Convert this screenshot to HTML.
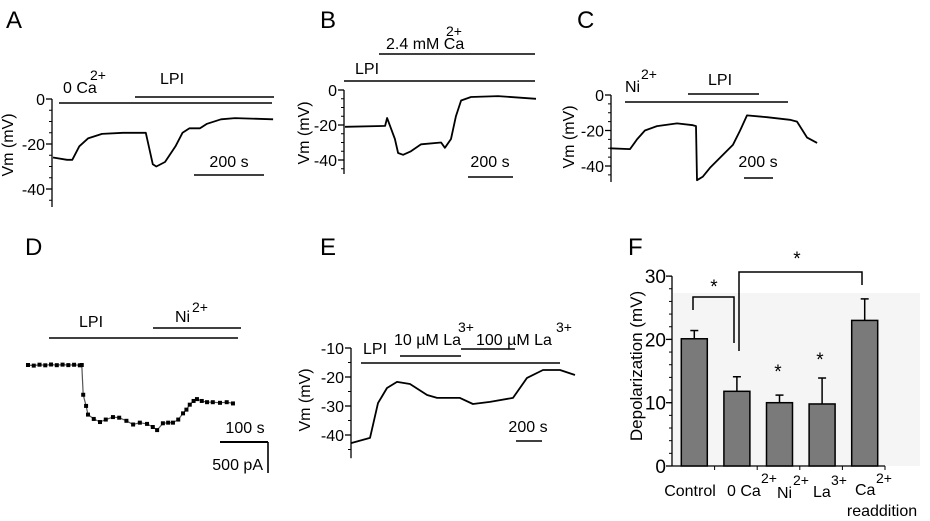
<!DOCTYPE html>
<html><head><meta charset="utf-8"><style>
html,body{margin:0;padding:0;background:#fff;}
svg{display:block;font-family:"Liberation Sans",Arial,sans-serif;}
text{fill:#000;}
</style></head><body>
<svg id="fig" width="930" height="521" viewBox="0 0 930 521" xmlns="http://www.w3.org/2000/svg">
<g id="static" stroke-linecap="butt">
<text x="6" y="28" font-size="24">A</text>
<text x="320" y="28" font-size="24">B</text>
<text x="577" y="28" font-size="24">C</text>
<text x="25" y="255" font-size="24">D</text>
<text x="320" y="255" font-size="24">E</text>
<text x="628" y="255" font-size="24">F</text>

<g>
<line x1="59" y1="103" x2="272" y2="103" stroke="#000" stroke-width="1.6"/>
<line x1="135" y1="97" x2="274" y2="97" stroke="#000" stroke-width="1.6"/>
<text x="63" y="93" font-size="16">0 Ca</text><text x="90" y="80" font-size="14">2+</text>
<text x="160" y="84" font-size="16">LPI</text>
<line x1="194" y1="175" x2="264" y2="175" stroke="#000" stroke-width="1.6"/>
<text x="229" y="167" font-size="16" text-anchor="middle">200 s</text>
<text transform="translate(13,145) rotate(-90)" font-size="16" text-anchor="middle">Vm (mV)</text>
</g>
<g>
<line x1="344" y1="81" x2="535" y2="81" stroke="#000" stroke-width="1.6"/>
<line x1="379" y1="54" x2="535" y2="54" stroke="#000" stroke-width="1.6"/>
<text x="355" y="74" font-size="16">LPI</text>
<text x="386" y="49" font-size="16">2.4 mM Ca</text><text x="446" y="36" font-size="14">2+</text>
<line x1="468" y1="177" x2="513" y2="177" stroke="#000" stroke-width="1.6"/>
<text x="490" y="167" font-size="16" text-anchor="middle">200 s</text>
<text transform="translate(309,133) rotate(-90)" font-size="16" text-anchor="middle">Vm (mV)</text>
</g>
<g>
<line x1="625" y1="102" x2="788" y2="102" stroke="#000" stroke-width="1.6"/>
<line x1="688" y1="94" x2="759" y2="94" stroke="#000" stroke-width="1.6"/>
<text x="625" y="92" font-size="16">Ni</text><text x="641" y="79" font-size="14">2+</text>
<text x="708" y="85" font-size="16">LPI</text>
<line x1="744" y1="178" x2="773" y2="178" stroke="#000" stroke-width="1.6"/>
<text x="758" y="167" font-size="16" text-anchor="middle">200 s</text>
<text transform="translate(574,137) rotate(-90)" font-size="16" text-anchor="middle">Vm (mV)</text>
</g>
<g>
<line x1="49" y1="338" x2="238" y2="338" stroke="#000" stroke-width="1.6"/>
<line x1="153" y1="328" x2="241" y2="328" stroke="#000" stroke-width="1.6"/>
<text x="79" y="327" font-size="16">LPI</text>
<text x="175" y="322" font-size="16">Ni</text><text x="192" y="312" font-size="14">2+</text>
<line x1="220" y1="442" x2="268" y2="442" stroke="#000" stroke-width="2"/>
<line x1="268" y1="442" x2="268" y2="473" stroke="#000" stroke-width="1.6"/>
<text x="245" y="433" font-size="16" text-anchor="middle">100 s</text>
<text x="263" y="470" font-size="16" text-anchor="end">500 pA</text>
</g>
<g>
<line x1="361" y1="363" x2="560" y2="363" stroke="#000" stroke-width="1.6"/>
<line x1="400" y1="356" x2="461" y2="356" stroke="#000" stroke-width="1.6"/>
<line x1="461" y1="349" x2="515" y2="349" stroke="#000" stroke-width="1.6"/>
<text x="363" y="354" font-size="16">LPI</text>
<text x="394" y="345" font-size="16">10 µM La</text><text x="458" y="332" font-size="14">3+</text>
<text x="476" y="345" font-size="16">100 µM La</text><text x="556" y="332" font-size="14">3+</text>
<line x1="516" y1="441" x2="542" y2="441" stroke="#000" stroke-width="1.6"/>
<text x="528" y="432" font-size="16" text-anchor="middle">200 s</text>
<text transform="translate(310,400) rotate(-90)" font-size="16" text-anchor="middle">Vm (mV)</text>
</g>
<rect x="673" y="293" width="247" height="173" fill="#f5f5f5"/>
<g>
<text transform="translate(642,366) rotate(-90)" font-size="17" text-anchor="middle">Depolarization (mV)</text>
<text x="690" y="496" font-size="16" text-anchor="middle">Control</text>
<text x="727" y="496" font-size="16">0 Ca</text><text x="761" y="483" font-size="14">2+</text>
<text x="777" y="498" font-size="16">Ni</text><text x="793" y="485" font-size="14">2+</text>
<text x="813" y="497" font-size="16">La</text><text x="831" y="485" font-size="14">3+</text>
<text x="855" y="495" font-size="16">Ca</text><text x="876" y="483" font-size="14">2+</text>
<text x="882" y="516" font-size="16" text-anchor="middle">readdition</text>
<path d="M693,310 V297 H734 V343" fill="none" stroke="#000" stroke-width="1.5"/>
<path d="M739,351 V272 H862 V285" fill="none" stroke="#000" stroke-width="1.5"/>
<text x="714" y="293" font-size="19" text-anchor="middle">*</text>
<text x="797" y="265" font-size="19" text-anchor="middle">*</text>
<text x="778" y="378" font-size="19" text-anchor="middle">*</text>
<text x="820" y="366" font-size="19" text-anchor="middle">*</text>
</g>
</g>
<g id="dyn"></g>
</svg>
<script>
const aTime = [0,40,55,75,100,140,200,265,285,295,320,350,370,390,420,440,480,520,629];
const aVm = [-26,-27,-27,-21,-17.5,-15.5,-15,-15,-29,-30,-28,-21,-15,-13,-13,-11,-9,-8.5,-9];
const aTicks = [0,-20,-40];
const bTime = [0,178,187,222,236,258,293,338,427,444,471,493,516,560,680,849];
const bVm = [-21,-20.5,-16,-28,-36,-37,-35,-31,-30,-33,-28,-15,-6,-4,-3.5,-5];
const bTicks = [0,-20,-40];
const cTime = [0,138,186,241,324,462,572,593,600,641,690,848,897,945,1083,1241,1290,1359,1428];
const cVm = [-30,-30.5,-25,-20,-17.5,-16,-17,-17.5,-48,-46,-41,-28,-20,-11.5,-12.5,-14,-15,-24,-27];
const cTicks = [0,-20,-40];
const dTime = [0,12,24,36,48,60,72,84,96,108,112,115,121,125,137,150,162,177,190,205,219,233,248,260,269,281,292,302,313,323,330,337,345,352,362,373,385,400,414,427];
const dCur = [0,-10,5,-5,8,-3,6,-2,4,-5,0,-480,-660,-800,-870,-920,-880,-840,-850,-900,-960,-930,-950,-1000,-1050,-940,-930,-930,-880,-780,-720,-640,-580,-550,-580,-600,-600,-610,-600,-620];
const eTime = [0,146,208,277,354,454,585,662,838,938,1069,1246,1354,1477,1608,1723];
const eVm = [-42.8,-41,-29,-23.8,-21.7,-22.4,-26.2,-27.2,-27.2,-29.3,-28.6,-27.2,-20.3,-17.6,-17.6,-19.3];
const eTicks = [-10,-20,-30,-40];
const fCats = ["Control","0 Ca2+","Ni2+","La3+","Ca2+ readdition"];
const fMeans = [20.1,11.8,10.0,9.8,23.0];
const fErrTop = [21.4,14.1,11.2,13.9,26.4];
const fTicks = [0,10,20,30];

const NS = "http://www.w3.org/2000/svg";
const dyn = document.getElementById('dyn');
function mk(tag, attrs){const e=document.createElementNS(NS,tag);for(const k in attrs)e.setAttribute(k,attrs[k]);dyn.appendChild(e);return e;}

function tracePanel(name, times, vals, x0, pxPerS, y0, v0, pxPerUnit, axis){
  const X=t=>x0+t*pxPerS, Y=v=>y0-(v-v0)*pxPerUnit;
  const pts=times.map((t,i)=>X(t).toFixed(1)+','+Y(vals[i]).toFixed(1)).join(' ');
  const pl=mk('polyline',{points:pts,fill:'none',stroke:'#000','stroke-width':1.8,'stroke-linejoin':'round'});
  
  
  if(axis){
    const ax=mk('line',{x1:axis.x,y1:Y(axis.top),x2:axis.x,y2:Y(axis.bottom),stroke:'#000','stroke-width':1.3});
    
    
    for(let v=axis.top; v>=axis.bottom; v-=axis.minor){
      mk('line',{x1:axis.x-3,y1:Y(v),x2:axis.x,y2:Y(v),stroke:'#000','stroke-width':1});
    }
    axis.ticks.forEach(v=>{
      mk('line',{x1:axis.x-6,y1:Y(v),x2:axis.x,y2:Y(v),stroke:'#000','stroke-width':1.3});
      const t=mk('text',{x:axis.x-7,y:Y(v)+6,'font-size':16,'text-anchor':'end'});
      t.textContent=String(v);
      
      
    });
  }
  return {X,Y};
}
tracePanel('panel-a', aTime, aVm, 53, 0.35, 99, 0, 2.25, {x:52, top:0, bottom:-48, minor:5, ticks:aTicks});
tracePanel('panel-b', bTime, bVm, 345, 0.225, 90, 0, 1.75, {x:344, top:0, bottom:-48, minor:5, ticks:bTicks});
tracePanel('panel-c', cTime, cVm, 610, 0.145, 95, 0, 1.775, {x:611, top:0, bottom:-49, minor:5, ticks:cTicks});
tracePanel('panel-e', eTime, eVm, 351, 0.13, 348, -10, 2.9, {x:351, top:-10, bottom:-48, minor:5, ticks:eTicks});
(function(){
  const X=t=>28+t*0.48, Y=v=>365-v*0.062;
  const pts=dTime.map((t,i)=>X(t).toFixed(1)+','+Y(dCur[i]).toFixed(1)).join(' ');
  const pl=mk('polyline',{points:pts,fill:'none',stroke:'#555','stroke-width':1.2});
  
  
  dTime.forEach((t,i)=>{
    const r=mk('rect',{x:X(t)-2,y:Y(dCur[i])-2,width:4,height:4,fill:'#000'});
    
    
  });
})();
(function(){
  const ax=672, Y=v=>466-v*6.33, slot=42.6, bw=26;
  const yaxis=mk('line',{x1:ax,y1:Y(30),x2:ax,y2:Y(0),stroke:'#000','stroke-width':1.3});
  
  
  const xaxis=mk('line',{x1:ax,y1:Y(0),x2:ax+slot*fCats.length,y2:Y(0),stroke:'#000','stroke-width':1.3});
  
  
  for(let v=0; v<=30; v+=2){mk('line',{x1:ax-3,y1:Y(v),x2:ax,y2:Y(v),stroke:'#000','stroke-width':1});}
  fTicks.forEach(v=>{
    mk('line',{x1:ax-6,y1:Y(v),x2:ax,y2:Y(v),stroke:'#000','stroke-width':1.3});
    const t=mk('text',{x:ax-6,y:Y(v)+7,'font-size':19,'text-anchor':'end'});
    t.textContent=String(v);
    
    
  });
  fCats.forEach((c,i)=>{
    const cx=ax+slot*(i+0.5)+1;
    mk('line',{x1:ax+slot*(i+1),y1:Y(0),x2:ax+slot*(i+1),y2:Y(0)+4,stroke:'#000','stroke-width':1});
    const e=mk('line',{x1:cx,y1:Y(fMeans[i]),x2:cx,y2:Y(fErrTop[i]),stroke:'#000','stroke-width':1.5});
    
    
    mk('line',{x1:cx-4,y1:Y(fErrTop[i]),x2:cx+4,y2:Y(fErrTop[i]),stroke:'#000','stroke-width':1.5});
    const b=mk('rect',{x:cx-bw/2,y:Y(fMeans[i]),width:bw,height:Y(0)-Y(fMeans[i]),fill:'#7a7a7a',stroke:'#000','stroke-width':1.5});
    
    
  });
})();
</script>
</body></html>
